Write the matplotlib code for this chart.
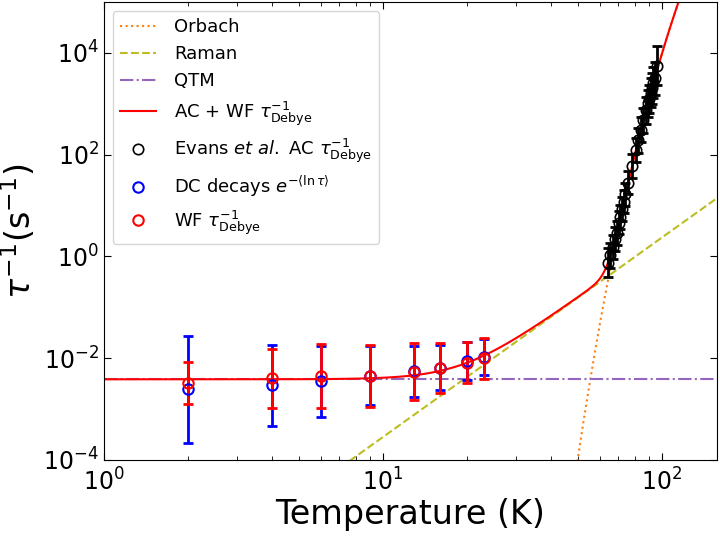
import numpy as np
import matplotlib
matplotlib.use("Agg")
import matplotlib.pyplot as plt
from matplotlib.ticker import LogLocator, NullLocator

# fit parameters
qtm_rate = 3.85e-3          # s^-1
raman_C = 3.36e-8           # s^-1 K^-n
raman_n = 3.92
orbach_logA = 11.92         # log10(tau0^-1)
orbach_U = 1833.0           # K

# Evans et al. AC data
ac_T = [64.3, 65.5, 67.0, 68.0, 69.0, 70.3, 71.2, 72.2, 73.3, 74.2, 76.0, 78.4,
        81.0, 82.5, 84.5, 86.0, 88.0, 89.3, 90.3, 91.4, 92.4, 93.5, 94.6, 96.7]
ac_rate = [0.76, 1.05, 1.55, 2.2, 2.9, 4.6, 6.0, 8.6, 12.0, 16.5, 28.0, 60.0,
           122.0, 190.0, 310.0, 470.0, 740.0, 1020.0, 1250.0, 1650.0, 2000.0, 2600.0, 3150.0, 5600.0]
ac_err = [0.28, 0.25, 0.24, 0.24, 0.23, 0.23, 0.23, 0.23, 0.23, 0.23, 0.23, 0.23,
          0.24, 0.24, 0.25, 0.25, 0.26, 0.27, 0.28, 0.29, 0.30, 0.31, 0.33, 0.38]

# DC decays
dc_T = [2.0, 4.0, 6.0, 9.0, 13.0, 16.0, 20.0, 23.0]
dc_rate = [2.43e-3, 2.92e-3, 3.54e-3, 4.5e-3, 5.56e-3, 6.46e-3, 8.7e-3, 1.06e-2]
dc_err = [1.05, 0.79, 0.70, 0.58, 0.50, 0.44, 0.37, 0.36]

# waveform data
wf_T = [2.0, 4.0, 6.0, 9.0, 13.0, 16.0, 20.0, 23.0]
wf_rate = [3.28e-3, 4.0e-3, 4.44e-3, 4.5e-3, 5.4e-3, 6.3e-3, 8.2e-3, 1.0e-2]
wf_err = [0.41, 0.58, 0.63, 0.61, 0.56, 0.49, 0.41, 0.40]


def log_err(rate, err):
    rate = np.array(rate)
    f = 10 ** np.array(err)
    return [rate - rate / f, rate * f - rate]


T = np.logspace(0, np.log10(160), 600)
orbach = 10 ** (orbach_logA - orbach_U / (np.log(10) * T))
raman = raman_C * T ** raman_n
qtm = np.full_like(T, qtm_rate)
total = orbach + raman + qtm

fig = plt.figure(figsize=(7.2, 5.37), dpi=100)
ax = fig.add_axes([0.144, 0.1434, 0.8518, 0.8529])

ax.plot(T, orbach, ':', color='tab:orange', lw=1.5, label='Orbach')
ax.plot(T, raman, '--', color='tab:olive', lw=1.5, label='Raman')
ax.plot(T, qtm, '-.', color='tab:purple', lw=1.5, label='QTM')
ax.plot(T, total, '-', color='red', lw=1.5, label=r'AC + WF $\tau_{\mathrm{Debye}}^{-1}$')

eb = dict(fmt='none', elinewidth=2, capsize=3.5, capthick=2)
ax.errorbar(ac_T, ac_rate, yerr=log_err(ac_rate, ac_err), ecolor='black', zorder=3, **eb)
ax.errorbar(dc_T, dc_rate, yerr=log_err(dc_rate, dc_err), ecolor='blue', zorder=3, **eb)
ax.errorbar(wf_T, wf_rate, yerr=log_err(wf_rate, wf_err), ecolor='red', zorder=4, **eb)

ax.plot(ac_T, ac_rate, 'o', mfc='none', mec='black', ms=7.5, mew=1.2, zorder=5,
        label=r'Evans $et\ al.$ AC $\tau_{\mathrm{Debye}}^{-1}$')
ax.plot(dc_T, dc_rate, 'o', mfc='none', mec='blue', ms=7.5, mew=1.5, zorder=5,
        label=r'DC decays $e^{-\langle\ln\tau\rangle}$')
ax.plot(wf_T, wf_rate, 'o', mfc='none', mec='red', ms=7.5, mew=1.5, zorder=6,
        label=r'WF $\tau_{\mathrm{Debye}}^{-1}$')

ax.set_xscale('log')
ax.set_yscale('log')
ax.set_xlim(1, 158)
ax.set_ylim(1e-4, 1e5)
ax.yaxis.set_major_locator(LogLocator(base=100.0))
ax.yaxis.set_minor_locator(NullLocator())

ax.tick_params(which='both', direction='in', top=True, right=True, labelsize=17)
ax.tick_params(which='major', length=5)
ax.tick_params(which='minor', length=3)
ax.tick_params(axis='x', pad=6)

ax.set_xlabel('Temperature (K)', fontsize=24, labelpad=2)
ax.set_ylabel(r'$\tau^{-1}(\mathrm{s}^{-1})$', fontsize=24)

ax.legend(loc='upper left', fontsize=13, handletextpad=1.0)

fig.savefig('out.png', dpi=100)
